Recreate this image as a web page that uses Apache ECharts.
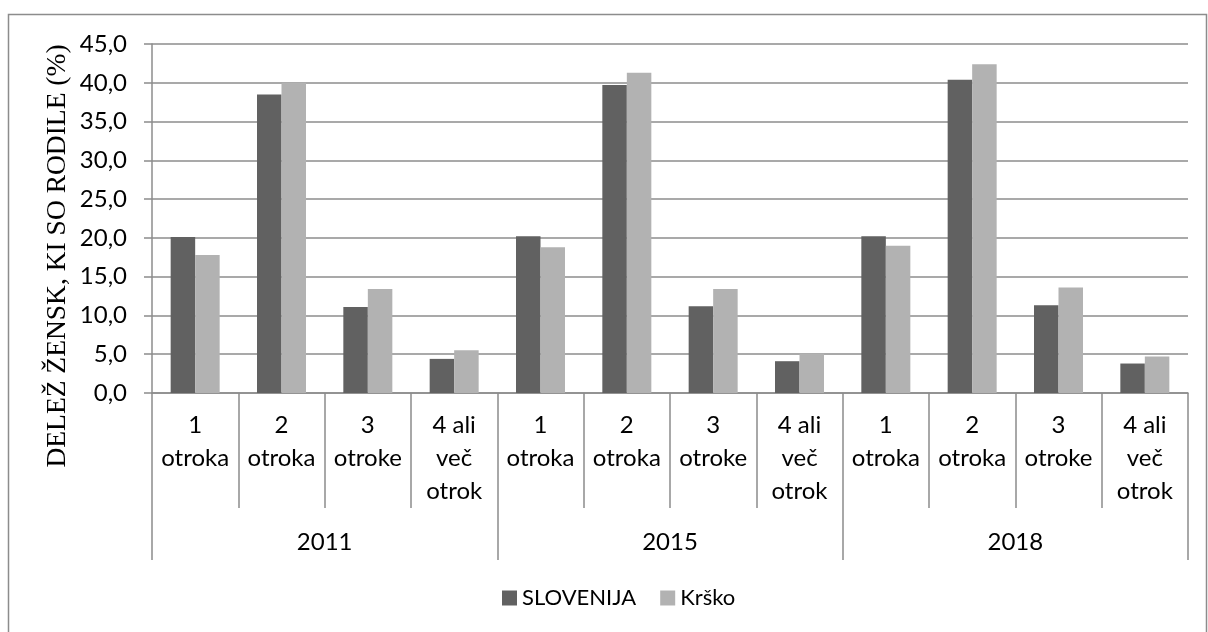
<!DOCTYPE html>
<head>
    <meta charset="utf-8">
    <title>ECharts</title>
    <script type="text/javascript" src="https://cdn.jsdelivr.net/npm/echarts@6/dist/echarts.min.js"></script>
</head>
<body style="margin:0">
    <div id="main" style="width:1208px;height:632px"></div>

    <script type="text/javascript">
    // podatki
    var leta = ['2011', '2015', '2018'];
    var skupine = ['1\notroka', '2\notroka', '3\notroke', '4 ali\nveč\notrok'];
    var kategorije = [];
    leta.forEach(function () { kategorije = kategorije.concat(skupine); });
    var slovenija = [20.1, 38.5, 11.1, 4.4, 20.2, 39.7, 11.2, 4.1, 20.2, 40.4, 11.3, 3.8];
    var krsko = [17.8, 40.0, 13.4, 5.5, 18.8, 41.3, 13.4, 5.1, 19.0, 42.4, 13.6, 4.7];
    var naslovY = 'DELEŽ ŽENSK, KI SO RODILE (%)';

    var siva = '#8c8c8c';
    var pisava = 'Lato';

    var myChart = echarts.init(document.getElementById('main'));
    myChart.setOption({
        animation: false,
        backgroundColor: '#fff',
        graphic: [{
            type: 'rect',
            shape: { x: 8.5, y: 14.5, width: 1198, height: 640 },
            style: { fill: 'none', stroke: siva, lineWidth: 1.5 },
            silent: true
        }, {
            // naslov osi y
            type: 'text',
            x: 58, y: 256,
            rotation: Math.PI / 2,
            style: {
                text: naslovY, fill: '#000',
                font: '27.5px "Liberation Serif"',
                align: 'center', verticalAlign: 'middle'
            },
            silent: true
        }],
        grid: { left: 152, right: 20, top: 44, bottom: 239 },
        legend: {
            left: 497, top: 582,
            itemWidth: 15, itemHeight: 15, itemGap: 24,
            icon: 'rect',
            textStyle: { fontFamily: pisava, fontSize: 22, color: '#000' },
            data: ['SLOVENIJA', 'Krško']
        },
        xAxis: [{
            type: 'category',
            data: kategorije,
            axisLine: { lineStyle: { color: siva, width: 1.5 } },
            axisTick: { show: true, length: 115, interval: 0, lineStyle: { color: siva, width: 1.5 } },
            axisLabel: {
                interval: 0, margin: 16, lineHeight: 33,
                fontFamily: pisava, fontSize: 24, color: '#000'
            }
        }, {
            type: 'category',
            data: leta,
            position: 'bottom',
            axisLine: { show: false },
            axisTick: { show: true, length: 167, interval: 0, lineStyle: { color: siva, width: 1.5 } },
            axisLabel: { margin: 137, fontFamily: pisava, fontSize: 24, color: '#000' }
        }],
        yAxis: {
            type: 'value',
            min: 0, max: 45, interval: 5,
            axisLine: { show: true, lineStyle: { color: siva, width: 1.5 } },
            axisTick: { show: true, length: 8, lineStyle: { color: siva, width: 1.5 } },
            splitLine: { lineStyle: { color: siva, width: 1.5 } },
            axisLabel: {
                margin: 25, fontFamily: pisava, fontSize: 24, color: '#000',
                formatter: function (v) { return v.toFixed(1).replace('.', ','); }
            }
        },
        series: [{
            name: 'SLOVENIJA',
            type: 'bar',
            data: slovenija,
            barWidth: 24.5,
            barGap: '0%',
            itemStyle: { color: '#616161' }
        }, {
            name: 'Krško',
            type: 'bar',
            data: krsko,
            barWidth: 24.5,
            itemStyle: { color: '#b2b2b2' }
        }]
    });
    </script>
</body>
